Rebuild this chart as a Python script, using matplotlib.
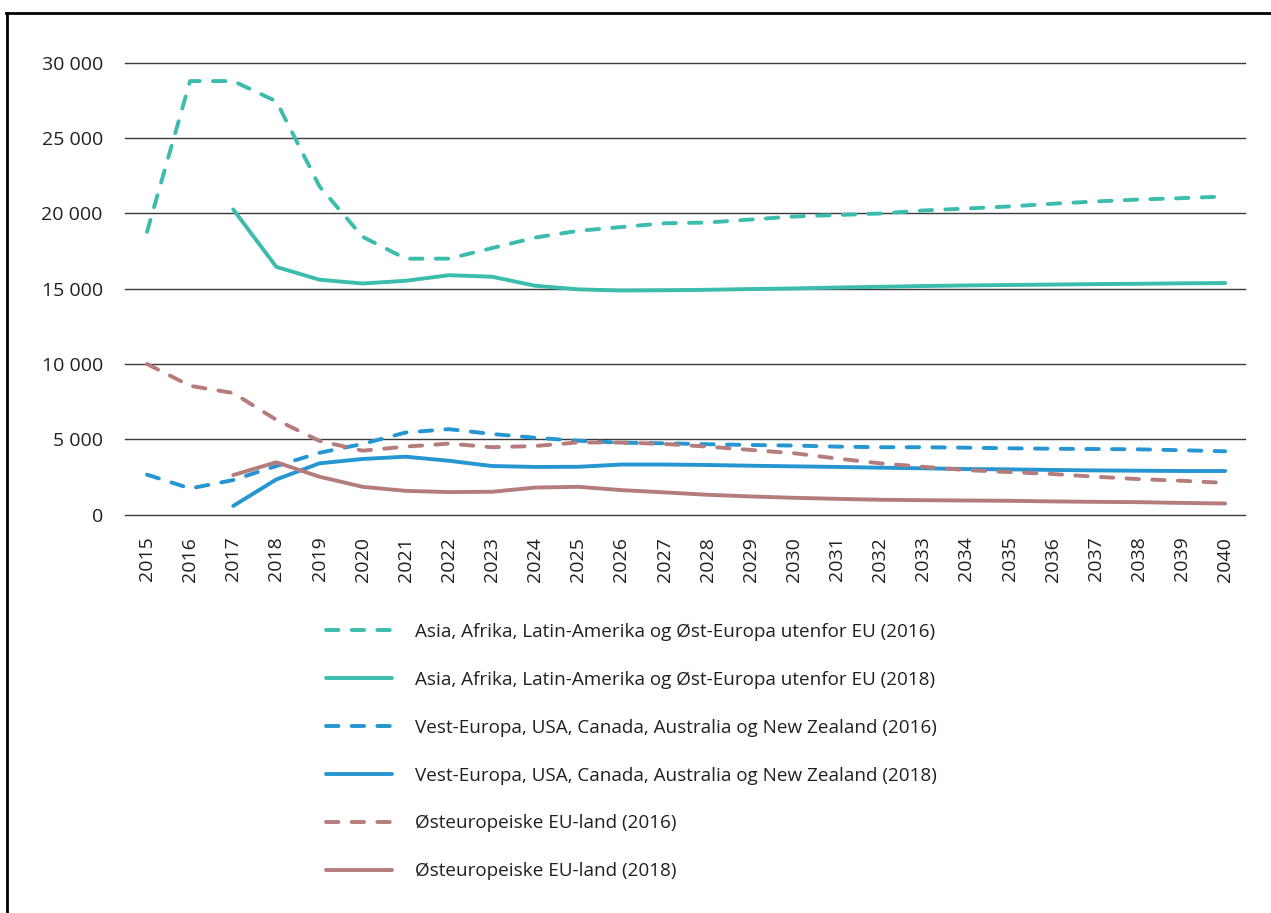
import matplotlib
matplotlib.use("Agg")
import matplotlib.pyplot as plt
from matplotlib.lines import Line2D
from matplotlib.ticker import FuncFormatter, MultipleLocator

plt.rcParams["font.family"] = ["Open Sans", "DejaVu Sans"]

# Projection years
years = list(range(2015, 2041))
years_2018 = list(range(2017, 2041))

# Asia, Afrika, Latin-Amerika og Øst-Europa utenfor EU
asia_2016 = [18780, 28800, 28800, 27450, 21800, 18450, 17000, 17000, 17700, 18400,
             18850, 19100, 19350, 19400, 19600, 19800, 19900, 20000, 20200, 20330,
             20470, 20650, 20800, 20930, 21020, 21130]
asia_2018 = [20270, 16450, 15600, 15350, 15530, 15900, 15800, 15200, 14960, 14880,
             14900, 14930, 14980, 15020, 15080, 15130, 15180, 15220, 15250, 15280,
             15310, 15330, 15360, 15380]

# Vest-Europa, USA, Canada, Australia og New Zealand
vest_2016 = [2650, 1730, 2290, 3220, 4100, 4690, 5450, 5670, 5350, 5100,
             4900, 4770, 4730, 4670, 4620, 4580, 4510, 4470, 4470, 4440,
             4400, 4370, 4350, 4330, 4270, 4200]
vest_2018 = [570, 2330, 3400, 3690, 3840, 3570, 3220, 3160, 3170, 3320,
             3320, 3290, 3240, 3200, 3160, 3110, 3070, 3020, 3000, 2960,
             2930, 2910, 2890, 2890]

# Østeuropeiske EU-land
ost_2016 = [10000, 8550, 8070, 6290, 4890, 4240, 4510, 4710, 4470, 4550,
            4790, 4780, 4690, 4510, 4290, 4070, 3720, 3400, 3170, 2950,
            2820, 2690, 2510, 2350, 2240, 2100]
ost_2018 = [2620, 3470, 2510, 1840, 1570, 1490, 1510, 1790, 1840, 1620,
            1470, 1310, 1200, 1110, 1040, 980, 950, 930, 910, 870,
            840, 820, 770, 730]

labels = [
    "Asia, Afrika, Latin-Amerika og Øst-Europa utenfor EU (2016)",
    "Asia, Afrika, Latin-Amerika og Øst-Europa utenfor EU (2018)",
    "Vest-Europa, USA, Canada, Australia og New Zealand (2016)",
    "Vest-Europa, USA, Canada, Australia og New Zealand (2018)",
    "Østeuropeiske EU-land (2016)",
    "Østeuropeiske EU-land (2018)",
]

TEAL = "#3bbcad"
BLUE = "#2596d1"
BROWN = "#b47c7a"
TEXT = "#231f20"

W, H = 1271, 913
fig = plt.figure(figsize=(W / 100, H / 100), dpi=100)
ax = fig.add_axes([125 / W, 1 - 514.5 / H, (1245 - 125) / W, (514.5 - 63) / H])

dash = (0, (3.2, 3.4))
lw = 2.8
series = [
    (years, asia_2016, TEAL, dash),
    (years_2018, asia_2018, TEAL, "-"),
    (years, vest_2016, BLUE, dash),
    (years_2018, vest_2018, BLUE, "-"),
    (years, ost_2016, BROWN, dash),
    (years_2018, ost_2018, BROWN, "-"),
]
handles = []
for (x, y, c, ls), lab in zip(series, labels):
    (h,) = ax.plot(x, y, color=c, lw=lw, linestyle=ls, label=lab,
                   dash_capstyle="round", solid_capstyle="round", zorder=3)
    handles.append(h)

ax.set_xlim(2014.49, 2040.46)
ax.set_ylim(0, 30000)
ax.yaxis.set_major_locator(MultipleLocator(5000))
ax.yaxis.set_major_formatter(FuncFormatter(lambda v, p: f"{int(v):,}".replace(",", " ")))
ax.set_xticks(years)
ax.set_xticklabels([str(y) for y in years], rotation=90)
ax.tick_params(axis="both", length=0, labelsize=14, colors=TEXT)
ax.tick_params(axis="y", pad=16)
ax.tick_params(axis="x", pad=16)
ax.grid(axis="y", color="#3a3a3a", lw=1.0, zorder=1)
for gl in ax.get_ygridlines():
    gl.set_clip_on(False)
ax.set_axisbelow(True)
for s in ax.spines.values():
    s.set_visible(False)

leg = fig.legend(handles=handles, labels=labels, loc="upper left",
                 bbox_to_anchor=(326 / W, 1 - 623 / H), frameon=False,
                 fontsize=13.6, handlelength=3.5, handletextpad=1.2,
                 labelspacing=1.58, borderpad=0, borderaxespad=0)
for t in leg.get_texts():
    t.set_color(TEXT)

# Frame lines on the left and top edges
fig.add_artist(Line2D([6.8 / W, 6.8 / W], [0, 1 - 13.5 / H], transform=fig.transFigure,
                      color="black", lw=2.0))
fig.add_artist(Line2D([6 / W, 1], [1 - 13.5 / H, 1 - 13.5 / H], transform=fig.transFigure,
                      color="black", lw=2.0))

fig.savefig("out.png", dpi=100)
